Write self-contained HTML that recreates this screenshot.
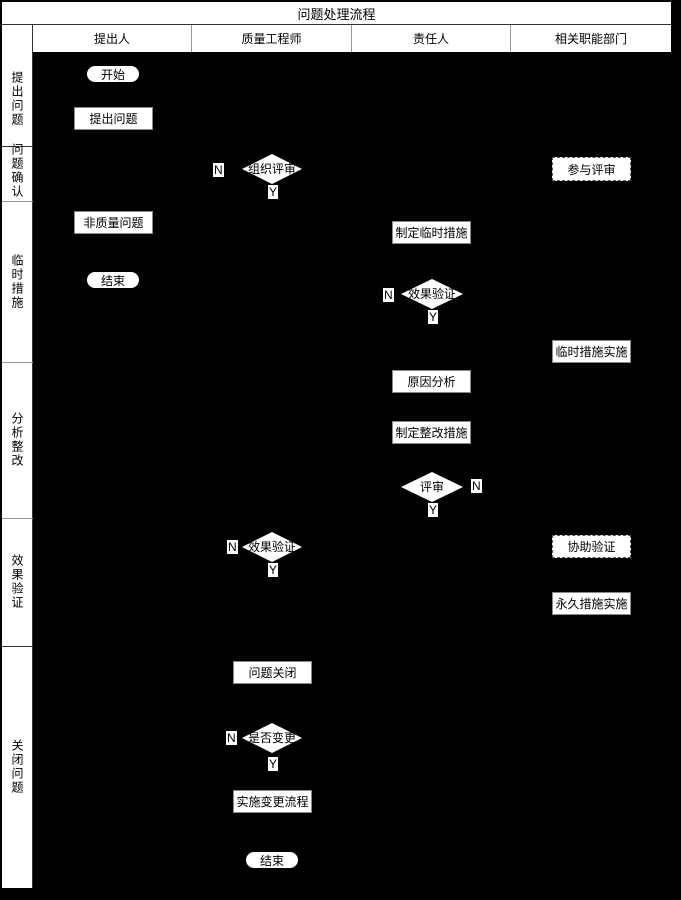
<!DOCTYPE html>
<html><head><meta charset="utf-8"><style>
body{margin:0;width:681px;height:900px;background:#000;position:relative;overflow:hidden;font-family:"Liberation Sans","Noto Sans CJK SC",sans-serif;font-size:12px;color:#000}
.a{position:absolute;box-sizing:border-box}
.w{background:#fff}
.c{display:flex;align-items:center;justify-content:center;text-align:center}
.r{background:#fff;border:1px solid #888}
.t{background:#fff;border-radius:9px}
.d{background:#fff;border:1px dashed #555}
.l{background:#fff;padding:0 1px;font-size:12px;line-height:14px}
.v{writing-mode:vertical-rl;text-orientation:upright;letter-spacing:2px}
</style></head><body>
<div class="a w c" style="left:2px;top:2px;width:669px;height:23px;border-bottom:1px solid #333;font-size:13px">问题处理流程</div>
<div class="a w" style="left:2px;top:25px;width:31px;height:863px;border-right:1px solid #333"></div>
<div class="a w c" style="left:33px;top:25px;width:159px;height:27px;border-right:1px solid #999">提出人</div>
<div class="a w c" style="left:192px;top:25px;width:160px;height:27px;border-right:1px solid #999">质量工程师</div>
<div class="a w c" style="left:352px;top:25px;width:159px;height:27px;border-right:1px solid #999">责任人</div>
<div class="a w c" style="left:511px;top:25px;width:160px;height:27px">相关职能部门</div>
<!-- lane separators -->
<div class="a" style="left:2px;top:146px;width:31px;height:1px;background:#333"></div>
<div class="a" style="left:2px;top:201px;width:31px;height:1px;background:#999"></div>
<div class="a" style="left:2px;top:362px;width:31px;height:1px;background:#999"></div>
<div class="a" style="left:2px;top:518px;width:31px;height:1px;background:#999"></div>
<div class="a" style="left:2px;top:646px;width:31px;height:1px;background:#333"></div>
<div class="a c" style="left:2px;top:52px;width:31px;height:94px"><span class="v">提出问题</span></div>
<div class="a c" style="left:2px;top:140px;width:31px;height:62px"><span class="v">问题确认</span></div>
<div class="a c" style="left:2px;top:201px;width:31px;height:161px"><span class="v">临时措施</span></div>
<div class="a c" style="left:2px;top:362px;width:31px;height:156px"><span class="v">分析整改</span></div>
<div class="a c" style="left:2px;top:518px;width:31px;height:128px"><span class="v">效果验证</span></div>
<div class="a c" style="left:2px;top:646px;width:31px;height:242px"><span class="v">关闭问题</span></div>

<!-- nodes -->
<div class="a t c" style="left:87px;top:66px;width:52px;height:16px">开始</div>
<div class="a r c" style="left:74px;top:107px;width:79px;height:23px">提出问题</div>
<div class="a r c" style="left:74px;top:211px;width:79px;height:23px">非质量问题</div>
<div class="a t c" style="left:87px;top:272px;width:52px;height:16px">结束</div>
<div class="a d c" style="left:552px;top:157px;width:79px;height:24px">参与评审</div>
<div class="a r c" style="left:392px;top:221px;width:79px;height:23px">制定临时措施</div>
<div class="a r c" style="left:552px;top:340px;width:79px;height:23px">临时措施实施</div>
<div class="a r c" style="left:392px;top:370px;width:79px;height:23px">原因分析</div>
<div class="a r c" style="left:392px;top:421px;width:79px;height:23px">制定整改措施</div>
<div class="a d c" style="left:552px;top:535px;width:79px;height:23px">协助验证</div>
<div class="a r c" style="left:552px;top:592px;width:79px;height:23px">永久措施实施</div>
<div class="a r c" style="left:233px;top:661px;width:79px;height:23px">问题关闭</div>
<div class="a r c" style="left:233px;top:790px;width:79px;height:23px">实施变更流程</div>
<div class="a t c" style="left:246px;top:852px;width:52px;height:16px">结束</div>

<svg class="a" style="left:0;top:0" width="681" height="900">
<g fill="#fff">
<polygon points="242,169 272,154 302,169 272,184"/>
<polygon points="401,294 432,279 463,294 432,309"/>
<polygon points="401,487 432,472 463,487 432,502"/>
<polygon points="242,547 272,532 302,547 272,562"/>
<polygon points="242,738 272,723 302,738 272,753"/>
</g>
<g font-family="Liberation Sans,Noto Sans CJK SC,sans-serif" font-size="12" text-anchor="middle" fill="#000">
<text x="272" y="173">组织评审</text>
<text x="432" y="298">效果验证</text>
<text x="432" y="491">评审</text>
<text x="272" y="551">效果验证</text>
<text x="272" y="742">是否变更</text>
</g>
</svg>
<div class="a l" style="left:213px;top:163px">N</div>
<div class="a l" style="left:268px;top:185px">Y</div>
<div class="a l" style="left:383px;top:288px">N</div>
<div class="a l" style="left:428px;top:310px">Y</div>
<div class="a l" style="left:471px;top:479px">N</div>
<div class="a l" style="left:428px;top:503px">Y</div>
<div class="a l" style="left:227px;top:540px">N</div>
<div class="a l" style="left:268px;top:563px">Y</div>
<div class="a l" style="left:226px;top:731px">N</div>
<div class="a l" style="left:268px;top:757px">Y</div>
</body></html>
